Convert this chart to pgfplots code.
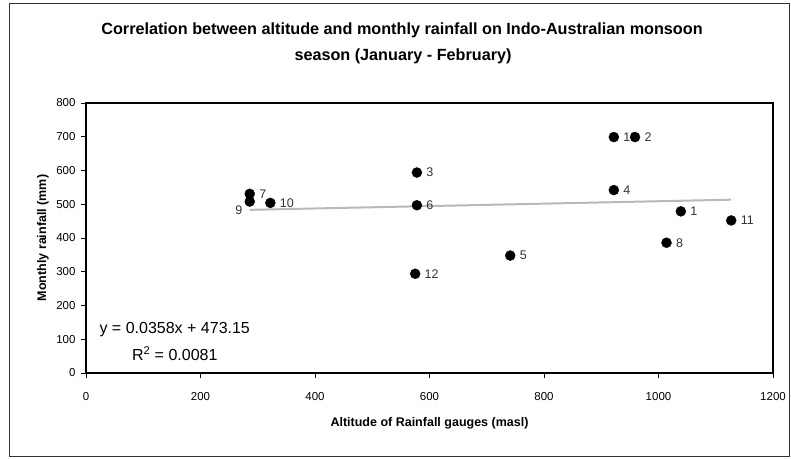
\documentclass[border=0pt]{standalone}
\usepackage{pgfplots}
\pgfplotsset{compat=1.18}
\usepackage{pgfplotstable}
\usepackage{fontspec}
\setmainfont{Liberation Sans}
\pgfplotstableread{
x y lbl
1039 479 1
959 699 2
578 594 3
922 542 4
741 348 5
578 497 6
286 531 7
1014 386 8
322 504 10
1127 452 11
575 294 12
922 699 13
}\pts
\pgfplotstableread{
x y lbl
286 508 9
}\ptnine
\begin{document}
\begin{tikzpicture}
\useasboundingbox (0pt,0pt) rectangle (791pt,458pt);
\draw[line width=1pt, black!80] (9pt,2pt) rectangle (789pt,454pt);
\node[font=\fontsize{16.2}{19}\selectfont\bfseries] at (402pt,428pt) {Correlation between altitude and monthly rainfall on Indo-Australian monsoon};
\node[font=\fontsize{16.2}{19}\selectfont\bfseries] at (403pt,402pt) {season (January - February)};
\begin{axis}[
  at={(86pt,85pt)}, anchor=south west, scale only axis,
  width=687pt, height=270pt,
  xmin=0, xmax=1200, ymin=0, ymax=800,
  xtick={0,200,...,1200}, ytick={0,100,...,800},
  tick align=outside, tick pos=left, major tick length=5pt,
  axis line style={line width=1.4pt},
  every tick/.style={line width=1pt, black},
  ticklabel style={font=\fontsize{11.5}{13}\selectfont},
  /pgf/number format/assume math mode=true,
  /pgf/number format/1000 sep={},
  xticklabel style={yshift=-11pt},
  yticklabel style={xshift=-2pt},
  xlabel={Altitude of Rainfall gauges (masl)},
  ylabel={Monthly rainfall (mm)},
  label style={font=\fontsize{12.5}{14}\selectfont\bfseries},
  xlabel style={at={(axis description cs:0.5,-0.185)}, anchor=center},
  ylabel style={at={(axis description cs:-0.0626,0.5)}, anchor=center},
]
\addplot[gray!55, line width=2pt] coordinates {(286,483.39) (1127,513.50)};
\addplot[only marks, mark=none, point meta=explicit symbolic, nodes near coords,
  nodes near coords style={anchor=west, xshift=6pt, font=\fontsize{12.5}{14}\selectfont, text=black!80}]
  table[x=x,y=y,meta=lbl]{\pts};
\addplot[only marks, mark=none, point meta=explicit symbolic, nodes near coords,
  nodes near coords style={anchor=north east, xshift=-4pt, yshift=-1pt, font=\fontsize{12.5}{14}\selectfont, text=black!80}]
  table[x=x,y=y,meta=lbl]{\ptnine};
\addplot[only marks, mark=*, mark size=5pt, black] table[x=x,y=y]{\pts};
\addplot[only marks, mark=*, mark size=5pt, black] table[x=x,y=y]{\ptnine};
\node[align=center, font=\fontsize{16}{27}\selectfont] at (axis cs:155,93) {y = 0.0358x + 473.15\\R\textsuperscript{2} = 0.0081};
\end{axis}
\end{tikzpicture}
\end{document}
